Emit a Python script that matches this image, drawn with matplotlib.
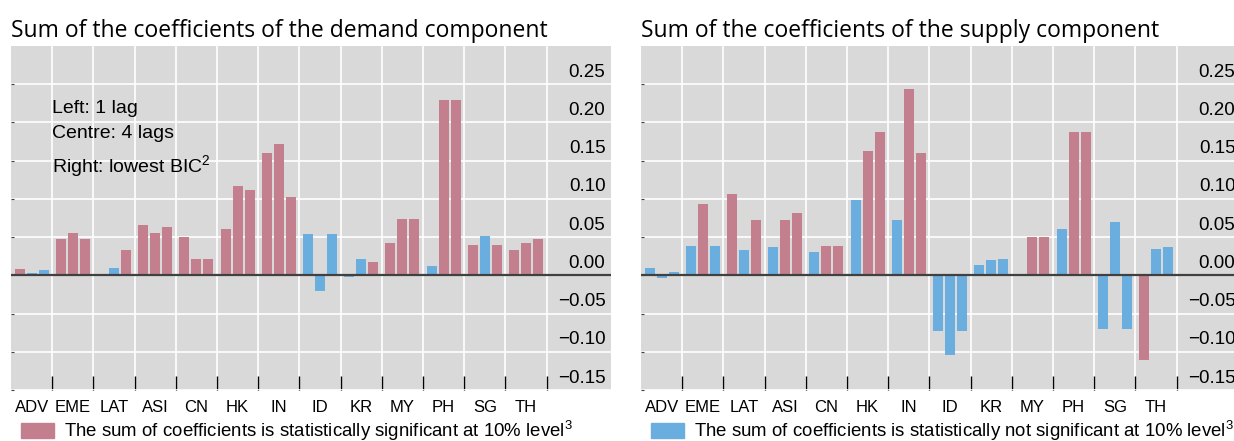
import matplotlib
matplotlib.use('Agg')
import matplotlib.pyplot as plt
import matplotlib.transforms as mtransforms
import numpy as np
from matplotlib.patches import Patch

plt.rcParams['font.family'] = ['Liberation Sans', 'DejaVu Sans']
plt.rcParams['mathtext.fontset'] = 'custom'
plt.rcParams['mathtext.rm'] = 'Liberation Sans'
plt.rcParams['mathtext.default'] = 'regular'

countries = ['ADV', 'EME', 'LAT', 'ASI', 'CN', 'HK', 'IN', 'ID', 'KR', 'MY', 'PH', 'SG', 'TH']

# demand component: 1 lag, 4 lags, lowest BIC
demand_1lag = [0.008, 0.047, -0.001, 0.066, 0.050, 0.060, 0.160, 0.054, -0.002, 0.042, 0.012, 0.040, 0.033]
demand_4lag = [0.003, 0.056, 0.010, 0.055, 0.022, 0.117, 0.172, -0.020, 0.022, 0.074, 0.230, 0.052, 0.042]
demand_bic = [0.0065, 0.047, 0.033, 0.063, 0.022, 0.111, 0.103, 0.054, 0.018, 0.074, 0.230, 0.040, 0.047]
demand_sig_1lag = [1, 1, 1, 1, 1, 1, 1, 0, 0, 1, 0, 1, 1]
demand_sig_4lag = [0, 1, 0, 1, 1, 1, 1, 0, 0, 1, 1, 0, 1]
demand_sig_bic = [0, 1, 1, 1, 1, 1, 1, 0, 1, 1, 1, 1, 1]

# supply component
supply_1lag = [0.010, 0.038, 0.106, 0.037, 0.030, 0.099, 0.072, -0.073, 0.014, -0.001, 0.061, -0.070, -0.111]
supply_4lag = [-0.004, 0.093, 0.033, 0.073, 0.038, 0.163, 0.244, -0.104, 0.020, 0.050, 0.187, 0.070, 0.035]
supply_bic = [0.005, 0.038, 0.072, 0.081, 0.038, 0.188, 0.160, -0.073, 0.022, 0.050, 0.187, -0.070, 0.037]
supply_sig_1lag = [0, 0, 1, 0, 0, 0, 0, 0, 0, 0, 0, 0, 1]
supply_sig_4lag = [0, 1, 0, 1, 1, 1, 1, 0, 0, 1, 1, 0, 0]
supply_sig_bic = [0, 0, 1, 1, 1, 1, 1, 0, 0, 1, 1, 0, 0]

yticks = [-0.15, -0.10, -0.05, 0.00, 0.05, 0.10, 0.15, 0.20, 0.25]

RED = '#c47f8f'
BLUE = '#6aaee0'
BG = '#d9d9d9'

W, H = 1234, 441
fig = plt.figure(figsize=(W / 100, H / 100), dpi=100)


def panel(left_px, title, series, sigs, legend_text, legend_color, note=False):
    ax = fig.add_axes([left_px / W, 51 / H, 600 / W, 344 / H])
    ax.set_facecolor(BG)
    for s in ax.spines.values():
        s.set_visible(False)
    n = len(countries)
    ax.set_xlim(0, 600 / 41.2)
    ax.set_ylim(-0.15, 0.30)
    x = np.arange(n) + 0.5
    for j, (vals, sg) in enumerate(zip(series, sigs)):
        cols = [RED if v else BLUE for v in sg]
        ax.bar(x + (j - 1) * 0.291, vals, width=0.243, color=cols, zorder=2)
    ax.axhline(0, color='#404040', lw=1.6, zorder=3)

    ax.set_xticks(x)
    ax.set_xticklabels(countries, fontsize=12)
    ax.set_xticks(np.arange(1, n + 1), minor=True)
    ax.tick_params(axis='x', which='major', length=0, pad=7)
    ax.tick_params(axis='x', which='minor', direction='in', length=10, width=1, color='black')
    ax.set_yticks(yticks)
    ax.tick_params(axis='y', direction='in', length=2, color='#404040', labelleft=False)
    ax.grid(which='minor', axis='x', color='white', lw=1.2, zorder=1)
    ax.grid(which='major', axis='y', color='white', lw=1.2, zorder=1)
    ax.set_axisbelow(True)

    tr = mtransforms.blended_transform_factory(ax.transAxes, ax.transData)
    for t in yticks:
        lbl = f'{t:.2f}'.replace('-', '\u2212')
        ax.annotate(lbl, (1, t), xycoords=tr, xytext=(-4, 2.5), textcoords='offset points',
                    ha='right', va='bottom', fontsize=13.5)

    ax.text(0, 1.008, title, transform=ax.transAxes, ha='left', va='bottom',
            fontsize=16.5, family='Open Sans')

    if note:
        ax.text(1.0, 0.229, 'Left: 1 lag\nCentre: 4 lags\nRight: lowest BIC$^{2}$',
                ha='left', va='top', fontsize=14, linespacing=1.6, zorder=4)

    ax.legend(handles=[Patch(color=legend_color, label=legend_text)],
              loc='center left', bbox_to_anchor=(0.016, -0.118), frameon=False,
              fontsize=13.4, handlelength=1.8, handleheight=0.85, handletextpad=0.55,
              borderpad=0, borderaxespad=0)
    return ax


panel(11, 'Sum of the coefficients of the demand component',
      [demand_1lag, demand_4lag, demand_bic],
      [demand_sig_1lag, demand_sig_4lag, demand_sig_bic],
      'The sum of coefficients is statistically significant at 10% level$^{3}$', RED, note=True)
panel(641, 'Sum of the coefficients of the supply component',
      [supply_1lag, supply_4lag, supply_bic],
      [supply_sig_1lag, supply_sig_4lag, supply_sig_bic],
      'The sum of coefficients is statistically not significant at 10% level$^{3}$', BLUE)

fig.savefig('out.png', dpi=100)
